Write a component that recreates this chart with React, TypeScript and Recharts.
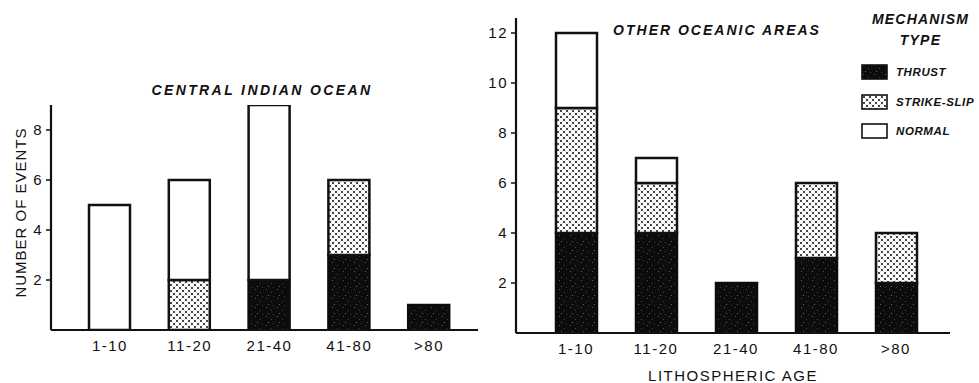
import React from 'react';
import { BarChart, Bar, XAxis, YAxis, Label } from 'recharts';

const categories = ['1-10', '11-20', '21-40', '41-80', '>80'];
const indianThrust = [0, 0, 2, 3, 1];
const indianStrikeSlip = [0, 2, 0, 3, 0];
const indianNormal = [5, 4, 7, 0, 0];
const otherThrust = [4, 4, 2, 3, 2];
const otherStrikeSlip = [5, 2, 0, 3, 2];
const otherNormal = [3, 1, 0, 0, 0];
const indianTicks = [2, 4, 6, 8];
const otherTicks = [2, 4, 6, 8, 10, 12];
const mechanismLabels = ['THRUST', 'STRIKE-SLIP', 'NORMAL'];

const indianData = categories.map((c, i) => ({
  age: c,
  thrust: indianThrust[i],
  strike: indianStrikeSlip[i],
  normal: indianNormal[i],
}));
const otherData = categories.map((c, i) => ({
  age: c,
  thrust: otherThrust[i],
  strike: otherStrikeSlip[i],
  normal: otherNormal[i],
}));

const FONT = '"Liberation Sans", Arial, Helvetica, sans-serif';
const INK = '#111';

const Patterns = ({ id }: { id: string }) => (
  <defs>
    <pattern id={`strike-${id}`} width="6" height="6" patternUnits="userSpaceOnUse">
      <rect width="6" height="6" fill="#fff" />
      <path d="M0,0 L6,6 M6,0 L0,6" stroke="#bbb" strokeWidth="0.6" />
      <circle cx="0" cy="0" r="0.9" fill="#000" />
      <circle cx="6" cy="0" r="0.9" fill="#000" />
      <circle cx="0" cy="6" r="0.9" fill="#000" />
      <circle cx="6" cy="6" r="0.9" fill="#000" />
      <circle cx="3" cy="3" r="0.9" fill="#000" />
    </pattern>
    <pattern id={`thrust-${id}`} width="11" height="9" patternUnits="userSpaceOnUse">
      <rect width="11" height="9" fill="#0c0c0c" />
      <rect x="2" y="1" width="1" height="1" fill="#555" />
      <rect x="7" y="4" width="1" height="1" fill="#444" />
      <rect x="4" y="7" width="1" height="1" fill="#666" />
      <rect x="9" y="8" width="1" height="1" fill="#3a3a3a" />
    </pattern>
  </defs>
);

const tickStyle = { fontFamily: FONT, fontSize: 15, fill: INK, letterSpacing: 1.5 };

const fills = (id: string) => ({
  thrust: `url(#thrust-${id})`,
  strike: `url(#strike-${id})`,
  normal: '#fff',
});

const titleStyle: React.CSSProperties = {
  position: 'absolute',
  fontFamily: FONT,
  fontWeight: 'bold',
  fontStyle: 'italic',
  fontSize: 14,
  color: INK,
  whiteSpace: 'nowrap',
  transform: 'translate(-50%, -50%)',
};

const MechanismLegend = ({ colors }: { colors: string[] }) => (
  <div style={{ position: 'absolute', left: 861, top: 0, width: 119, height: 145, fontFamily: FONT, color: INK }}>
    <div style={{ position: 'absolute', left: 0, width: 119, top: 9, textAlign: 'center', fontWeight: 'bold', fontStyle: 'italic', fontSize: 14, letterSpacing: 1.2, lineHeight: '21px' }}>
      MECHANISM
      <br />
      TYPE
    </div>
    {mechanismLabels.map((label, i) => (
      <div key={label} style={{ position: 'absolute', left: 0, top: 64 + i * 29.5, height: 16, display: 'flex', alignItems: 'center' }}>
        <svg width={28} height={16} style={{ display: 'block' }}>
          <rect x={1} y={1} width={25} height={14} fill={colors[i]} stroke={INK} strokeWidth={1.6} />
        </svg>
        <span style={{ marginLeft: 7, fontWeight: 'bold', fontStyle: 'italic', fontSize: 11.5, letterSpacing: 0.6 }}>{label}</span>
      </div>
    ))}
  </div>
);

export default function App() {
  const fi = fills('a');
  const fo = fills('b');
  return (
    <div style={{ position: 'absolute', left: 0, top: 0, width: 979, height: 383, background: '#fff', overflow: 'hidden' }}>
      <div style={{ position: 'absolute', left: 0, top: 0 }}>
        <BarChart width={490} height={383} data={indianData} margin={{ top: 105, right: 12, bottom: 23, left: 0 }} barSize={41}>
          <Patterns id="a" />
          <XAxis
            dataKey="age"
            height={30}
            tick={tickStyle}
            tickLine={false}
            tickMargin={4}
            axisLine={{ stroke: INK, strokeWidth: 2.2 }}
            padding={{ left: 19, right: 9 }}
          />
          <YAxis
            width={51}
            domain={[0, 9]}
            ticks={indianTicks}
            tick={tickStyle}
            tickSize={5}
            tickMargin={3}
            tickLine={{ stroke: INK, strokeWidth: 1.5 }}
            axisLine={{ stroke: INK, strokeWidth: 2.2 }}
            allowDataOverflow
          >
            <Label
              content={(p: any) => {
                const vb = p.viewBox || {};
                const cx = 20;
                const cy = (vb.y ?? 105) + (vb.height ?? 225) / 2 - 5;
                return (
                  <text x={cx} y={cy} transform={`rotate(-90 ${cx} ${cy})`} textAnchor="middle" dominantBaseline="central" style={{ fontFamily: FONT, fontSize: 15, fill: INK, letterSpacing: 1 }}>
                    NUMBER OF EVENTS
                  </text>
                );
              }}
            />
          </YAxis>
          <Bar dataKey="thrust" stackId="s" fill={fi.thrust} stroke="#0c0c0c" strokeWidth={2.5} isAnimationActive={false} />
          <Bar dataKey="strike" stackId="s" fill={fi.strike} stroke={INK} strokeWidth={2.5} isAnimationActive={false} />
          <Bar dataKey="normal" stackId="s" fill={fi.normal} stroke={INK} strokeWidth={2.5} isAnimationActive={false} />
        </BarChart>
        <div style={{ ...titleStyle, left: 262, top: 90, letterSpacing: 2.4 }}>CENTRAL INDIAN OCEAN</div>
      </div>
      <div style={{ position: 'absolute', left: 480, top: 0 }}>
        <BarChart width={499} height={383} data={otherData} margin={{ top: 18, right: 29, bottom: 20, left: 0 }} barSize={41}>
          <Patterns id="b" />
          <XAxis
            dataKey="age"
            height={30}
            tick={tickStyle}
            tickLine={false}
            tickMargin={4}
            axisLine={{ stroke: INK, strokeWidth: 2.2 }}
            padding={{ left: 20, right: 14 }}
          >
            <Label
              content={(p: any) => {
                const vb = p.viewBox || {};
                const cx = (vb.x ?? 36) + (vb.width ?? 434) / 2;
                return (
                  <text x={cx} y={375} textAnchor="middle" dominantBaseline="central" style={{ fontFamily: FONT, fontSize: 15, fill: INK, letterSpacing: 1.5 }}>
                    LITHOSPHERIC AGE
                  </text>
                );
              }}
            />
          </XAxis>
          <YAxis
            width={36}
            domain={[0, 12.6]}
            ticks={otherTicks}
            tick={tickStyle}
            tickSize={5}
            tickMargin={3}
            tickLine={{ stroke: INK, strokeWidth: 1.5 }}
            axisLine={{ stroke: INK, strokeWidth: 2.2 }}
            allowDataOverflow
          />
          <Bar dataKey="thrust" name="THRUST" stackId="s" fill={fo.thrust} stroke="#0c0c0c" strokeWidth={2.5} isAnimationActive={false} />
          <Bar dataKey="strike" name="STRIKE-SLIP" stackId="s" fill={fo.strike} stroke={INK} strokeWidth={2.5} isAnimationActive={false} />
          <Bar dataKey="normal" name="NORMAL" stackId="s" fill={fo.normal} stroke={INK} strokeWidth={2.5} isAnimationActive={false} />
        </BarChart>
        <div style={{ ...titleStyle, left: 237, top: 30, letterSpacing: 2 }}>OTHER OCEANIC AREAS</div>
      </div>
      <svg width={0} height={0} style={{ position: 'absolute' }}>
        <Patterns id="c" />
      </svg>
      <MechanismLegend colors={['url(#thrust-c)', 'url(#strike-c)', '#fff']} />
    </div>
  );
}
